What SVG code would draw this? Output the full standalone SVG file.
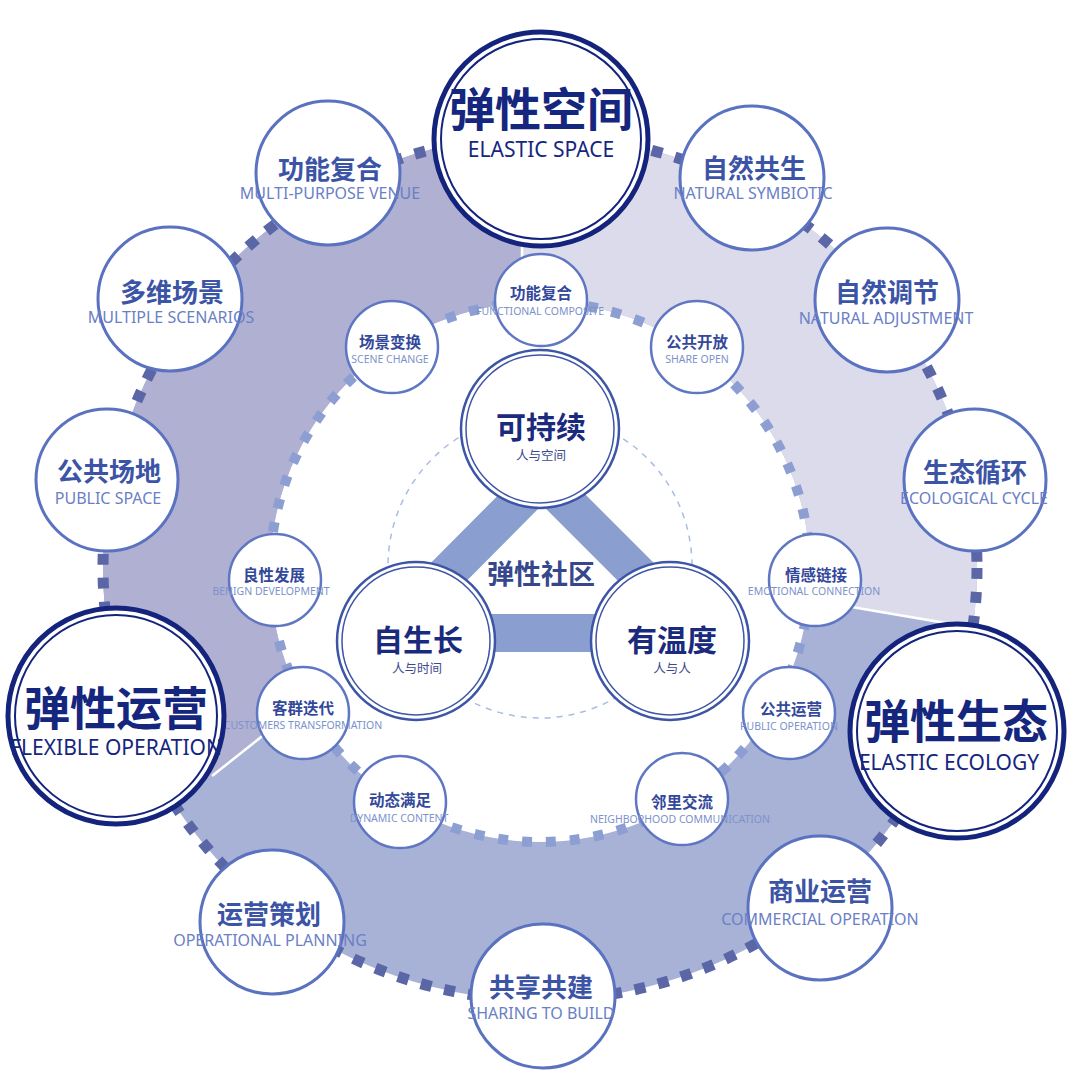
<svg xmlns="http://www.w3.org/2000/svg" width="1080" height="1080" viewBox="0 0 1080 1080">
<defs>
<clipPath id="annulus">
<path clip-rule="evenodd" d="M103,568 a437,432 0 1,0 874,0 a437,432 0 1,0 -874,0 Z M270,572 a270,270 0 1,0 540,0 a270,270 0 1,0 -540,0 Z"/>
</clipPath>
<style>
.zh{font-family:"Noto Sans CJK SC","Noto Sans",sans-serif;font-weight:700;text-anchor:middle}
.en{font-family:"Noto Sans","Noto Sans CJK SC",sans-serif;font-weight:400;text-anchor:middle}
.big .o{fill:#fff;stroke:#14247c;stroke-width:5}
.big .i{fill:none;stroke:#14247c;stroke-width:2}
.big .zh{font-size:46px;fill:#15267e}
.big .en{font-size:21px;fill:#15267e}
.tri .o{fill:#fff;stroke:#3d55a6;stroke-width:2.5}
.tri .i{fill:none;stroke:#3d55a6;stroke-width:1.5}
.tri .zh{font-size:30px;fill:#1a2a7c}
.tri .en{font-size:12.5px;fill:#3a4a8e;font-family:"Noto Sans CJK SC",sans-serif}
.outer circle{fill:#fff;stroke:#5a72bf;stroke-width:3}
.outer .zh{font-size:26px;fill:#3c54a6}
.outer .en{font-size:16px;fill:#6a80c6}
.inner circle{fill:#fff;stroke:#5f77c2;stroke-width:2.5}
.inner .zh{font-size:15.5px;fill:#33489a}
.inner .en{font-size:10.5px;fill:#7d92cc}
</style>
</defs>
<rect width="1080" height="1080" fill="#fff"/>
<g id="ring-fills" clip-path="url(#annulus)">
<rect x="0" y="0" width="1080" height="1080" fill="#a8b2d6"/>
<polygon points="0,0 522,0 522,531 0,943" fill="#b0b0d2"/>
<polygon points="522,0 1080,0 1080,645 522,552" fill="#dcdbec"/>
<line x1="522" y1="100" x2="522" y2="320" stroke="#fff" stroke-width="2.5"/>
<line x1="840" y1="605" x2="1010" y2="634" stroke="#fff" stroke-width="2.5"/>
<line x1="275" y1="726" x2="212" y2="776" stroke="#fff" stroke-width="2.5"/>
</g>
<g id="connectors">
<ellipse cx="540" cy="568" rx="437" ry="432" fill="none" stroke="#5b66a6" stroke-width="11" stroke-dasharray="11 13"/>
<circle cx="540" cy="572" r="270" fill="none" stroke="#8d9fd2" stroke-width="10" stroke-dasharray="10 14"/>
<circle cx="540" cy="566" r="152" fill="none" stroke="#a9bde2" stroke-width="1.5" stroke-dasharray="6 6"/>
<polygon points="542,478 388,633 697,633" fill="none" stroke="#8a9ecf" stroke-width="38"/>
<text x="541" y="584" class="zh" font-size="27" fill="#36478c">弹性社区</text>
</g>
<g id="outer-nodes">
<g id="n-gnfh" class="outer"><circle cx="328" cy="173" r="72"/><text x="330" y="179" class="zh">功能复合</text><text x="330" y="199" class="en">MULTI-PURPOSE VENUE</text></g>
<g id="n-dwcj" class="outer"><circle cx="170" cy="299" r="72"/><text x="172" y="302" class="zh">多维场景</text><text x="171" y="323" class="en">MULTIPLE SCENARIOS</text></g>
<g id="n-ggcd" class="outer"><circle cx="107" cy="480" r="71"/><text x="109" y="481" class="zh">公共场地</text><text x="108" y="504" class="en">PUBLIC SPACE</text></g>
<g id="n-zrgs" class="outer"><circle cx="752" cy="178" r="72"/><text x="754" y="178" class="zh">自然共生</text><text x="753" y="199" class="en">NATURAL SYMBIOTIC</text></g>
<g id="n-zrtj" class="outer"><circle cx="887" cy="300" r="72"/><text x="887" y="302" class="zh">自然调节</text><text x="886" y="324" class="en">NATURAL ADJUSTMENT</text></g>
<g id="n-sthx" class="outer"><circle cx="975" cy="480" r="71"/><text x="975" y="482" class="zh">生态循环</text><text x="974" y="504" class="en">ECOLOGICAL CYCLE</text></g>
<g id="n-yycs" class="outer"><circle cx="272" cy="922" r="72"/><text x="269" y="924" class="zh">运营策划</text><text x="270" y="946" class="en">OPERATIONAL PLANNING</text></g>
<g id="n-gxgj" class="outer"><circle cx="543" cy="996" r="72"/><text x="541" y="997" class="zh">共享共建</text><text x="541" y="1019" class="en">SHARING TO BUILD</text></g>
<g id="n-syyy" class="outer"><circle cx="820" cy="908" r="72"/><text x="820" y="901" class="zh">商业运营</text><text x="820" y="925" class="en">COMMERCIAL OPERATION</text></g>
</g>
<g id="inner-nodes">
<g id="i-gnfh" class="inner"><circle cx="541" cy="300" r="46"/><text x="541" y="299" class="zh">功能复合</text><text x="540" y="315" class="en">FUNCTIONAL COMPOSITE</text></g>
<g id="i-cjbh" class="inner"><circle cx="392" cy="347" r="46"/><text x="390" y="348" class="zh">场景变换</text><text x="390" y="363" class="en">SCENE CHANGE</text></g>
<g id="i-ggkf" class="inner"><circle cx="697" cy="347" r="46"/><text x="697" y="348" class="zh">公共开放</text><text x="697" y="363" class="en">SHARE OPEN</text></g>
<g id="i-lxfz" class="inner"><circle cx="275" cy="580" r="46"/><text x="274" y="581" class="zh">良性发展</text><text x="271" y="595" class="en">BENIGN DEVELOPMENT</text></g>
<g id="i-qglj" class="inner"><circle cx="815" cy="580" r="46"/><text x="816" y="581" class="zh">情感链接</text><text x="814" y="595" class="en">EMOTIONAL CONNECTION</text></g>
<g id="i-kqdd" class="inner"><circle cx="303" cy="713" r="46"/><text x="303" y="714" class="zh">客群迭代</text><text x="303" y="729" class="en">CUSTOMERS TRANSFORMATION</text></g>
<g id="i-ggyy" class="inner"><circle cx="789" cy="713" r="46"/><text x="791" y="715" class="zh">公共运营</text><text x="789" y="730" class="en">PUBLIC OPERATION</text></g>
<g id="i-dtmz" class="inner"><circle cx="400" cy="802" r="46"/><text x="400" y="806" class="zh">动态满足</text><text x="399" y="822" class="en">DYNAMIC CONTENT</text></g>
<g id="i-ljjl" class="inner"><circle cx="682" cy="799" r="46"/><text x="682" y="808" class="zh">邻里交流</text><text x="680" y="823" class="en">NEIGHBORHOOD COMMUNICATION</text></g>
</g>
<g id="triangle-nodes">
<g id="t-kcx" class="tri"><circle class="o" cx="540" cy="429" r="79"/><circle class="i" cx="540" cy="429" r="74"/><text x="541" y="438" class="zh">可持续</text><text x="541" y="460" class="en">人与空间</text></g>
<g id="t-zsz" class="tri"><circle class="o" cx="416" cy="641" r="79"/><circle class="i" cx="416" cy="641" r="74"/><text x="418" y="651" class="zh">自生长</text><text x="417" y="673" class="en">人与时间</text></g>
<g id="t-ywd" class="tri"><circle class="o" cx="670" cy="641" r="79"/><circle class="i" cx="670" cy="641" r="74"/><text x="672" y="651" class="zh">有温度</text><text x="672" y="673" class="en">人与人</text></g>
</g>
<g id="big-nodes">
<g id="b-space" class="big"><circle class="o" cx="541" cy="139" r="107"/><circle class="i" cx="541" cy="139" r="100"/><text x="541" y="126" class="zh">弹性空间</text><text x="541" y="157" class="en">ELASTIC SPACE</text></g>
<g id="b-op" class="big"><circle class="o" cx="116" cy="716" r="108"/><circle class="i" cx="116" cy="716" r="101"/><text x="116" y="725" class="zh">弹性运营</text><text x="116" y="755" class="en">FLEXIBLE OPERATION</text></g>
<g id="b-eco" class="big"><circle class="o" cx="957" cy="731" r="107"/><circle class="i" cx="957" cy="731" r="100"/><text x="956" y="738" class="zh">弹性生态</text><text x="949" y="770" class="en">ELASTIC ECOLOGY</text></g>
</g>
</svg>
